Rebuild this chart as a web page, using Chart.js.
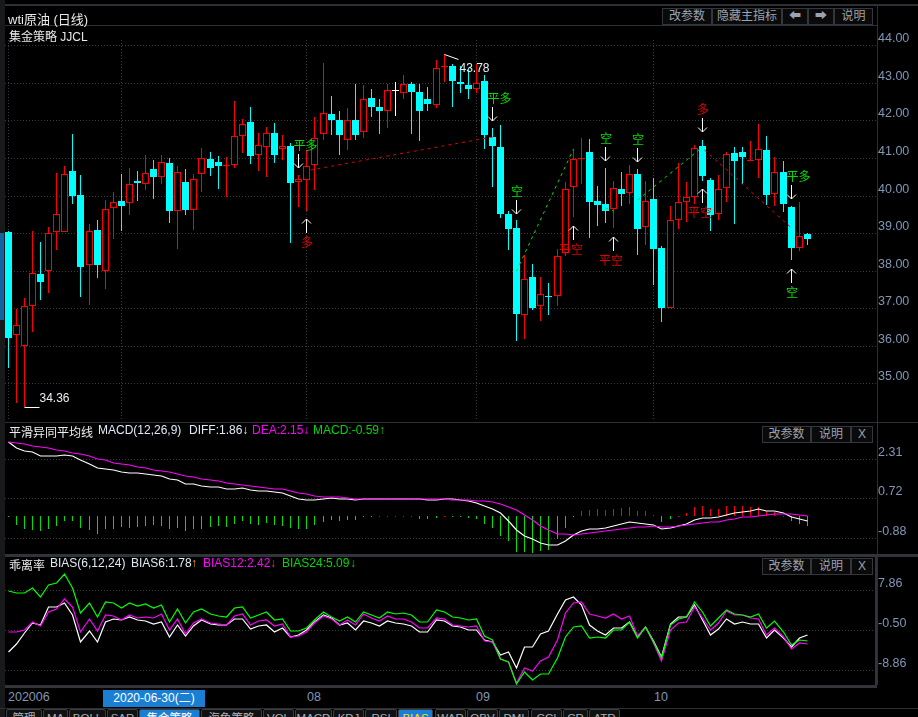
<!DOCTYPE html>
<html><head><meta charset="utf-8">
<script src="https://cdn.jsdelivr.net/npm/chart.js@4"></script>
<style>
html,body{margin:0;padding:0;background:#000;width:918px;height:717px;overflow:hidden}
body{position:relative;font:12px "Liberation Sans","Noto Sans CJK SC",sans-serif;color:#e8e8e8}
canvas{position:absolute}
.a{position:absolute;white-space:nowrap}
.l{position:absolute;background:#2c2f33}
.b{position:absolute;box-sizing:border-box;border:1px solid #33373c;color:#9aa3b2;text-align:center;background:#0a0a0a;line-height:15px}
.t{position:absolute;box-sizing:border-box;top:709px;height:20px;border:1px solid #3a3e44;border-radius:2px 2px 0 0;background:#111;color:#a9b1bd;text-align:center;line-height:16px;font-size:11.5px}
</style></head><body>
<canvas id="cMain" style="left:5px;top:26px"></canvas>
<canvas id="cMacd" style="left:5px;top:424px"></canvas>
<canvas id="cBias" style="left:5px;top:557px"></canvas>
<div id="chrome"></div>
<script>
// ---------- price data (100 daily candles) ----------
const opens=[39.03,36.28,35.99,37.05,37.92,38.0,39.04,39.04,40.65,40.02,38.15,39.09,37.99,39.68,39.85,39.79,40.39,40.32,40.71,40.5,
40.87,39.59,40.36,39.62,40.57,40.97,40.89,40.79,40.82,41.58,41.96,41.07,41.28,41.67,41.23,41.32,40.36,40.41,40.81,41.63,
42.18,42.0,41.47,42.0,41.69,42.61,42.37,42.26,42.79,42.73,42.98,42.77,42.56,42.41,43.41,43.46,43.01,42.93,42.85,43.04,
41.57,41.28,39.5,39.15,36.82,37.82,37.05,37.34,37.32,38.47,40.22,40.97,41.16,39.86,39.78,39.63,40.18,40.08,40.57,39.17,
39.91,38.6,37.0,39.36,39.84,39.97,41.32,40.41,39.52,40.21,41.13,41.16,40.93,40.96,41.21,40.05,40.63,39.7,38.6,38.98];
const closes=[36.2,36.55,37.05,37.94,37.7,39.0,39.5,40.57,40.0,38.09,39.07,38.16,39.63,39.82,39.72,40.3,40.34,40.59,40.49,40.89,
39.6,40.62,39.62,40.43,40.99,40.74,40.79,40.82,41.58,41.9,41.06,41.34,41.66,41.09,41.31,40.34,40.44,40.79,41.54,42.2,
42.0,41.62,42.0,41.62,42.57,42.37,42.24,42.81,42.79,42.97,42.77,42.26,42.45,43.4,43.44,43.04,42.96,42.85,43.0,41.6,
41.31,39.52,39.1,36.86,37.78,37.02,37.38,37.29,38.39,40.18,40.98,41.0,39.83,39.76,39.59,40.19,40.04,40.57,39.11,39.85,
38.58,37.0,39.34,39.82,39.95,41.26,40.52,39.48,40.17,41.1,40.92,41.03,40.96,41.23,40.02,40.62,39.78,38.6,38.92,38.84];
const highs=[39.07,36.99,37.28,39.06,38.77,39.16,40.6,40.78,41.64,40.55,39.25,39.35,39.88,40.1,40.57,40.73,40.66,41.08,40.95,41.08,
40.99,40.78,40.71,40.57,41.26,41.16,41.05,41.03,42.52,42.04,42.36,41.66,41.83,41.93,41.6,41.39,40.56,41.2,42.1,43.53,
42.66,42.24,42.34,42.96,42.93,42.85,42.58,42.98,43.01,43.22,43.02,42.98,42.88,43.6,43.78,43.51,43.44,43.4,43.49,43.22,
41.81,41.89,39.6,39.34,38.43,38.19,37.84,37.68,38.59,40.35,41.23,41.52,41.51,40.26,40.73,40.38,40.63,40.81,40.71,40.38,
40.47,38.66,39.72,40.87,40.37,41.35,41.48,40.47,40.55,41.16,41.29,41.29,41.46,41.91,41.59,41.03,40.92,39.72,39.83,39.0];
const lows=[35.42,34.49,34.36,36.38,37.23,37.41,38.54,39.04,39.78,37.31,37.09,37.81,37.52,38.85,39.06,39.49,39.86,40.15,39.91,40.31,
39.28,38.57,39.49,39.09,40.1,40.53,40.18,39.97,40.74,41.13,40.85,40.66,40.5,40.88,40.96,38.74,39.69,39.6,40.16,41.49,
41.62,41.07,41.2,41.49,41.54,42.1,41.65,41.81,42.13,42.56,41.65,41.46,42.24,42.32,43.01,42.37,42.72,42.58,42.74,41.25,
40.24,39.39,38.56,36.14,36.17,36.95,36.67,36.83,37.07,38.38,39.44,40.32,38.87,39.19,39.27,39.14,39.72,39.78,38.42,38.68,
37.62,36.64,37.0,39.11,39.3,39.78,40.39,39.06,39.35,39.83,39.24,40.31,40.92,40.47,39.75,39.72,39.56,38.29,38.53,38.68];
// ---------- MACD ----------
const diff=[2.97,2.73,2.63,2.57,2.43,2.42,2.42,2.46,2.44,2.26,2.12,1.96,1.91,1.87,1.79,1.76,1.76,1.72,1.68,1.63,
1.52,1.46,1.32,1.30,1.24,1.20,1.18,1.12,1.12,1.14,1.07,1.03,1.03,.98,.94,.81,.68,.64,.64,.68,
.72,.68,.68,.64,.68,.68,.68,.71,.71,.71,.71,.69,.64,.67,.68,.68,.64,
.63,.55,.41,.31,.12,-.17,-.55,-.77,-.92,-1.06,-1.16,-1.16,-.99,-.73,-.57,-.52,-.49,-.45,-.37,-.31,-.23,-.28,-.29,-.35,
-.51,-.45,-.37,-.32,-.13,-.08,-.08,-.03,.04,.12,.17,.23,.29,.21,.20,.12,-.03,-.11,-.19];
const dea=[2.97,2.93,2.89,2.83,2.78,2.73,2.66,2.61,2.55,2.50,2.42,2.32,2.26,2.16,2.11,2.06,1.99,1.94,1.88,1.83,
1.78,1.72,1.64,1.59,1.52,1.48,1.43,1.36,1.30,1.28,1.23,1.18,1.15,1.12,1.08,1.03,.95,.88,.83,.79,
.79,.76,.75,.71,.71,.71,.71,.71,.71,.71,.71,.69,.68,.68,.68,.67,.65,
.65,.63,.61,.57,.48,.37,.25,.04,-.15,-.39,-.56,-.69,-.72,-.73,-.71,-.67,-.64,-.59,-.55,-.49,-.45,-.43,-.41,-.40,
-.43,-.43,-.40,-.36,-.32,-.28,-.24,-.21,-.15,-.09,-.04,-.01,.03,.05,.09,.11,.08,.04,0];
const macdHist=[-.02,-.35,-.51,-.55,-.57,-.49,-.37,-.17,-.19,-.47,-.55,-.71,-.52,-.51,-.44,-.45,-.43,-.37,-.35,-.37,
-.52,-.48,-.57,-.51,-.49,-.44,-.40,-.41,-.31,-.20,-.31,-.36,-.27,-.33,-.40,-.45,-.49,-.49,-.36,-.24,
-.15,-.19,-.15,-.15,-.03,-.02,.02,.02,.02,.02,.02,-.09,-.09,-.05,.02,-.02,-.02,
-.08,-.09,-.31,-.45,-.77,-.98,-1.42,-1.42,-1.46,-1.38,-1.35,-.92,-.47,-.02,.23,.25,.28,.25,.29,.35,.37,.23,.23,.04,
-.23,-.09,.02,.15,.36,.41,.31,.31,.41,.41,.41,.37,.36,.23,.17,.02,-.17,-.29,-.37];
// ---------- BIAS ----------
const bias6=[-4.96,-3.43,-1.13,1.10,.68,4.31,4.31,5.14,2.70,-2.87,-.71,-2.87,1.17,1.80,1.66,2.22,1.59,1.38,.89,1.17,
-1.97,.54,-1.76,.33,1.59,.82,.54,.54,1.80,1.80,-.29,.33,.54,-.92,-.08,-1.97,-1.55,-.50,1.17,2.63,
2.01,.54,.96,-.50,1.38,.96,.40,1.38,.96,.75,.33,-.92,-.78,1.59,1.38,.33,.13,
-.50,-.43,-2.59,-2.87,-5.59,-5.10,-8.45,-4.06,-4.06,-1.34,-.64,2.84,5.84,6.40,4.80,.54,-.71,-1.55,-.08,-.08,1.31,-1.97,.13,-2.73,
-6.01,.75,2.22,2.22,4.80,1.59,-1.55,-.29,1.80,.75,1.17,.75,.75,-2.10,-.43,-2.17,-4.06,-2.17,-1.55];
const bias12=[-.92,-.92,-.43,1.24,.33,3.26,3.89,5.98,4.45,-.92,1.80,-.71,2.63,2.43,1.59,2.63,2.01,2.29,2.15,2.84,
-.36,1.87,-1.20,.96,1.80,.96,.75,.61,2.43,2.84,.54,1.38,1.59,.33,.75,-1.97,-1.69,-.92,.96,2.43,
1.87,.68,1.59,.54,2.84,2.01,1.38,2.43,1.80,1.80,1.24,-.08,.06,2.01,1.80,.54,.33,
.13,.33,-2.73,-3.01,-6.57,-7.19,-11.58,-8.45,-9.07,-6.98,-6.15,-2.59,3.12,5.14,5.35,2.84,2.43,2.08,2.84,1.87,2.43,-1.76,.13,-3.22,
-6.84,-.50,.96,1.24,4.31,2.01,-.50,.96,3.54,2.70,2.63,2.01,1.87,-1.55,-.08,-1.97,-4.47,-3.22,-3.43];
const bias24=[7.72,7.37,7.23,8.28,6.40,8.98,9.33,11.21,8.42,3.05,5.14,2.22,5.49,5.28,4.10,5.14,4.59,5.00,4.10,4.73,
1.31,3.89,.96,3.26,3.96,2.84,2.50,2.22,4.10,4.38,2.01,2.63,3.26,1.59,1.87,-.71,-.71,-.08,1.59,3.26,
2.36,1.52,2.22,1.17,3.26,2.63,2.01,3.26,2.91,3.05,2.63,1.17,1.31,3.68,3.40,2.22,2.01,
1.66,1.87,-1.69,-2.52,-6.50,-7.19,-11.79,-9.28,-10.89,-9.63,-9.63,-6.36,-1.90,.13,.33,-2.10,-1.90,-2.17,-.50,-.50,1.31,-2.17,.13,-3.01,
-6.36,.54,1.87,2.29,5.35,3.26,.33,2.01,3.75,2.98,2.63,2.29,2.84,-.08,1.38,-.92,-3.57,-2.59,-2.66];
// ---------- axis ticks ----------
const priceTicks=[44,43,42,41,40,39,38,37,36,35];
const macdTicks=[2.31,0.72,-0.88];
const biasTicks=[7.86,-0.50,-8.86];
const monthGridIdx=[0,14,37,58,80];
// ---------- strategy signals ----------
const sigIdx =[36,37,60,63,70,74,75,78,86,86,97,97];
const sigTip =[40.73,39.38,41.99,39.51,39.19,40.92,38.9,40.9,41.69,40.18,39.91,38.05];
const sigDir =['d','u','d','d','u','d','u','d','d','u','d','u'];
const sigText=['平多','多','平多','空','平空','空','平空','空','多','平空','平多','空'];
const sigCol =['#00e000','#e00000','#00e000','#00e000','#e00000','#00e000','#e00000','#00e000','#e00000','#e00000','#00e000','#00e000'];
const redDash1=[{x:37.5,y:40.67},{x:60,y:41.57}];
const redDash2=[{x:86.3,y:41.2},{x:97,y:39.15}];
const greenDash1=[{x:63,y:37.98},{x:70,y:41.23}];
const greenDash2=[{x:74,y:39.66},{x:75,y:39.6}];
const greenDash3=[{x:78,y:39.88},{x:86,y:41.3}];
const lowMark={i:2,v:34.36}, highMark={i:54,v:43.78};

const FONT='"Liberation Sans","Noto Sans CJK SC",sans-serif';
const XMIN=-0.409, XMAX=107.646;
function snapX(s){if(s._sn)return;s._sn=1;const g=s.getPixelForValue.bind(s);s.getPixelForValue=v=>Math.floor(g(v))+0.5;}
function snapY(s){if(s._sn)return;s._sn=1;const g=s.getPixelForValue.bind(s);s.getPixelForValue=v=>Math.round(g(v));}
function scales(ymin,ymax,yt,grid,dec){return {
 x:{type:'linear',offset:false,min:XMIN,max:XMAX,afterBuildTicks:s=>{s.ticks=(grid?monthGridIdx:[]).map(v=>({value:v}))},afterFit:s=>{s.height=0;s.paddingLeft=s.paddingRight=0},afterUpdate:snapX,
    ticks:{display:false},border:{display:false,dash:[1,2]},grid:{offset:false,display:grid,color:'#3c3c3c',tickLength:0,drawTicks:false}},
 y:{position:'right',min:ymin,max:ymax,afterBuildTicks:s=>{s.ticks=yt.map(v=>({value:v}))},afterFit:s=>{s.width=41;s.paddingTop=s.paddingBottom=0},afterUpdate:snapY,
    border:{display:true,color:'#34383d',width:1,dash:[1,2]},
    grid:{color:'#3c3c3c',drawTicks:false,tickLength:0},
    ticks:{color:'#8196b5',padding:1,autoSkip:false,labelOffset:-6,font:{family:FONT,size:12.5},callback:v=>Number(v).toFixed(dec)}}
};}
const base={responsive:false,animation:false,devicePixelRatio:1,events:[],layout:{padding:0},plugins:{legend:{display:false},tooltip:{enabled:false}}};
function size(id,w,h){const c=document.getElementById(id);c.width=w;c.height=h;c.style.width=w+'px';c.style.height=h+'px';return c;}

const idx=opens.map((_,i)=>i);
const candleCol=idx.map(i=>closes[i]>opens[i]?'#ff0000':closes[i]<opens[i]?'#00ffff':'#ffffff');
const bodyData=idx.map(i=>{const a=Math.min(opens[i],closes[i]),b=Math.max(opens[i],closes[i]);return {x:i,y:a===b?[a-.015,b+.015]:[a,b]}});
const wickData=idx.map(i=>({x:i,y:[lows[i],highs[i]]}));
const bodyFill=idx.map(i=>closes[i]>opens[i]?'#000000':candleCol[i]);
function dash(data,color){return {type:'line',data,borderColor:color,borderWidth:1,borderDash:[3,4],pointRadius:0,order:1,tension:0};}

const signalPlugin={id:'signals',afterDatasetsDraw(ch){
 const c=ch.ctx,X=ch.scales.x,Y=ch.scales.y;c.save();
 sigIdx.forEach((i,k)=>{
  const x=X.getPixelForValue(i),tip=Y.getPixelForValue(sigTip[k]),d=sigDir[k]==='d'?-1:1;
  c.strokeStyle='#fff';c.lineWidth=1;c.beginPath();
  c.moveTo(x,tip);c.lineTo(x,tip+d*14);
  c.moveTo(x-4.5,tip+d*4.5);c.lineTo(x,tip);c.lineTo(x+4.5,tip+d*4.5);c.stroke();
  const t=sigText[k],off=t==='平多'?7:t==='平空'?-2.5:0.5;
  c.fillStyle=sigCol[k];c.font='12px "Noto Sans CJK SC"';c.textAlign='center';c.textBaseline='middle';
  c.fillText(t,x+off,tip+d*23);
 });
 // extreme labels
 c.strokeStyle='#fff';c.lineWidth=1;c.fillStyle='#e8eef5';c.font='12px "Liberation Sans"';c.textAlign='left';c.textBaseline='middle';
 let lx=X.getPixelForValue(lowMark.i),ly=Y.getPixelForValue(lowMark.v)+.5;
 c.beginPath();c.moveTo(lx,ly);c.lineTo(lx+15,ly);c.stroke();c.fillText(lowMark.v.toFixed(2),lx+15,ly-9);
 let hx=X.getPixelForValue(highMark.i),hy=Y.getPixelForValue(highMark.v)+.5;
 c.beginPath();c.moveTo(hx,hy);c.lineTo(hx+14,hy+5);c.stroke();c.fillText(highMark.v.toFixed(2),hx+15,hy+14);
 c.restore();
}};

new Chart(size('cMain',913,395),{type:'bar',data:{datasets:[
 {data:wickData,backgroundColor:candleCol,borderWidth:0,barThickness:1,grouped:false,order:3,inflateAmount:0},
 {data:bodyData,backgroundColor:bodyFill,borderColor:candleCol,borderWidth:1,borderSkipped:false,barThickness:7,grouped:false,order:2,inflateAmount:0},
 dash(redDash1,'#e00000'),dash(redDash2,'#e00000'),dash(greenDash1,'#00e000'),dash(greenDash2,'#00e000'),dash(greenDash3,'#00e000')
]},options:{...base,layout:{padding:{top:14}},scales:scales(34.0,44.141,priceTicks,true,2)},plugins:[signalPlugin]});

const line=(arr,color,order)=>({type:'line',data:idx.map(i=>({x:i,y:arr[i]})),borderColor:color,borderWidth:1.2,pointRadius:0,tension:0,order});

new Chart(size('cMacd',913,130),{type:'bar',data:{datasets:[
 {data:idx.map(i=>({x:i,y:macdHist[i]})),backgroundColor:idx.map(i=>macdHist[i]>=0?'#ff0000':'#00e000'),borderWidth:0,barThickness:1,grouped:false,order:3,inflateAmount:0,minBarLength:1},
 line(diff,'#ffffff',2),line(dea,'#ff00ff',1)
]},options:{...base,scales:scales(-1.503,3.703,macdTicks,false,2)}});

new Chart(size('cBias',913,128),{type:'line',data:{datasets:[
 line(bias6,'#ffffff',3),line(bias12,'#ff00ff',2),line(bias24,'#00ff00',1)
]},options:{...base,scales:scales(-11.93,14.82,biasTicks,false,2)}});

// ---------- window chrome ----------
const ch=document.getElementById('chrome');
function div(cls,l,t,w,h,txt,st){const d=document.createElement('div');d.className=cls;d.style.cssText=`left:${l}px;top:${t}px;`+(w?`width:${w}px;`:'')+(h?`height:${h}px;`:'')+(st||'');if(txt)d.textContent=txt;ch.appendChild(d);return d;}
// frame lines
div('l',0,0,5,717,'','background:#17191b');
div('l',0,233,4,87,'','background:#14629f');
div('l',5,4,913,2);div('l',5,25,872,1);
div('l',5,422,913,1);div('l',5,554,913,3,'','background:#31353a');
div('l',5,685,872,3,'','background:#31353a');div('l',875,555,2,132,'','background:#31353a');
div('l',877,6,1,679);div('l',0,708,918,1);
// titles
div('a',8,9,0,0,'wti原油 (日线)','font-size:13px');
div('a',9,27,0,0,'集金策略 JJCL');
const btnH=17;
[[662,50,'改参数'],[712,70,'隐藏主指标'],[782,26,'⬅'],[808,26,'➡'],[834,39,'说明']].forEach(b=>div('b',b[0],8,b[1],btnH,b[2]));
[425.5,557.5].forEach(t=>{[[762,49,'改参数'],[811,40,'说明'],[851,22,'X']].forEach(b=>div('b',b[0],t,b[1],btnH,b[2]));});
function hdr(y,items){items.forEach(it=>div('a',it[0],y,0,0,it[1],'color:'+it[2]));}
hdr(423,[[9,'平滑异同平均线','#eee'],[98,'MACD(12,26,9)','#dfe9f5'],[189,'DIFF:1.86↓','#dfe9f5'],[252,'DEA:2.15↓','#ff00ff'],[313,'MACD:-0.59↑','#00d800']]);
hdr(556,[[9,'乖离率','#eee'],[50,'BIAS(6,12,24)','#dfe9f5'],[131,'BIAS6:1.78','#dfe9f5'],[191,'↑','#ffa040'],[203,'BIAS12:2.42','#ff00ff'],[270,'↓','#ff3050'],[282,'BIAS24:5.09','#00d800'],[350,'↓','#00d800']]);
// time axis
const timeLabels=[[8,'202006'],[307,'08'],[476,'09'],[654,'10']];
timeLabels.forEach(t=>div('a',t[0],690,0,0,t[1],'color:#8196b5;font-size:12.5px'));
div('a',103,690,102,17,'2020-06-30(二)','background:#1a7fd4;color:#fff;text-align:center;line-height:17px');
// tabs
[[6,36,'管理'],[43,25,'MA'],[69,37,'BOLL'],[107,31,'SAR'],[139,61,'集金策略'],[201,61,'海龟策略'],[263,31,'VOL'],[295,37,'MACD'],[333,31,'KDJ'],[365,32,'RSI'],[398,35,'BIAS'],[435,31,'WAR'],[467,31,'OBV'],[499,30,'DMI'],[531,31,'CCI'],[563,25,'CR'],[589,31,'ATR']].forEach(t=>{
 const on=t[2]==='集金策略'||t[2]==='BIAS';
 const d=div('t',t[0],709,t[1],20,t[2],on?'background:#1a7fd4;color:'+(t[2]==='BIAS'?'#ffe000':'#fff'):'');
});
</script>
</body></html>
